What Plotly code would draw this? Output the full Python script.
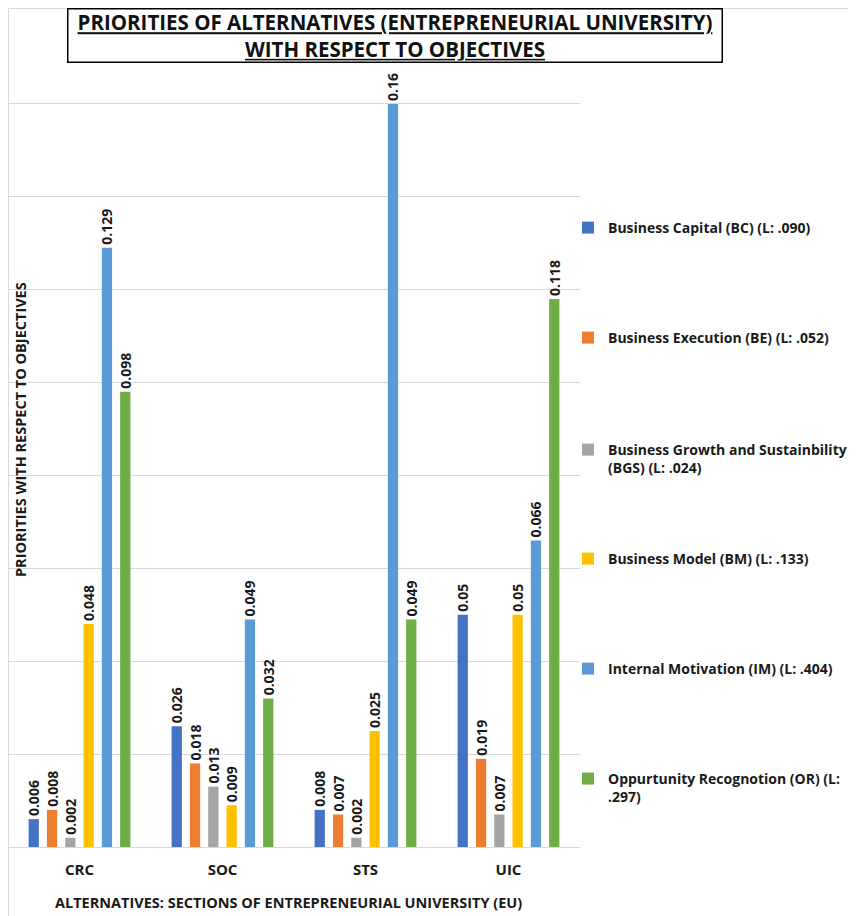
import plotly.graph_objects as go

categories = ["CRC", "SOC", "STS", "UIC"]
series_names = [
    "Business Capital (BC) (L: .090)",
    "Business Execution (BE) (L: .052)",
    "Business Growth and Sustainbility<br>(BGS) (L: .024)",
    "Business Model (BM) (L: .133)",
    "Internal Motivation (IM) (L: .404)",
    "Oppurtunity Recognotion (OR) (L:<br>.297)",
]
bc = [0.006, 0.026, 0.008, 0.05]
be = [0.008, 0.018, 0.007, 0.019]
bgs = [0.002, 0.013, 0.002, 0.007]
bm = [0.048, 0.009, 0.025, 0.05]
im = [0.129, 0.049, 0.16, 0.066]
orr = [0.098, 0.032, 0.049, 0.118]
series_values = [bc, be, bgs, bm, im, orr]
colors = ["#4472C4", "#ED7D31", "#A5A5A5", "#FFC000", "#5B9BD5", "#70AD47"]

# page has an 8px body margin; figure is drawn from screen (8, 8)
OFF = 8
W, H = 856 - OFF, 916 - OFF
L, R, T, B = 8, 580, 11, 847  # plot area in screen px


def px_x(sx):
    return (sx - L) / (R - L)


def px_y(sy):
    return (B - sy) / (B - T)


FONT = "Open Sans"
TXT = "#1a1a1a"

fig = go.Figure()
legend_names = ["legend", "legend2", "legend3", "legend4", "legend5", "legend6"]
for name, vals, col, lg in zip(series_names, series_values, colors, legend_names):
    fig.add_trace(go.Bar(
        x=categories, y=vals, name=name,
        marker=dict(color=col, line=dict(width=0)),
        text=[str(v) for v in vals],
        textposition="outside", textangle=-90,
        constraintext="none", cliponaxis=False,
        textfont=dict(family=FONT, size=14, color=TXT, weight="bold"),
        legend=lg,
    ))

legend_centers = [228, 338, 450, 559, 669, 779]
layout_legends = {}
for lg, cy in zip(legend_names, legend_centers):
    layout_legends[lg] = dict(
        x=px_x(568), y=px_y(cy - 16), xanchor="left", yanchor="top",
        font=dict(family=FONT, size=14, color=TXT, weight="bold"),
        bgcolor="rgba(0,0,0,0)", valign="top", itemclick=False,
    )

fig.update_layout(
    width=W, height=H,
    margin=dict(l=L - OFF, r=(W + OFF) - R, t=T - OFF, b=(H + OFF) - B),
    paper_bgcolor="white", plot_bgcolor="white",
    barmode="group", bargap=0.232, bargroupgap=0.44,
    showlegend=True,
    font=dict(family=FONT, color=TXT),
    xaxis=dict(
        type="category", showgrid=False, showline=False, ticks="",
        ticklabelstandoff=12,
        tickfont=dict(family=FONT, size=15, color=TXT, weight="bold"),
        fixedrange=True,
    ),
    yaxis=dict(
        range=[0, 0.18], dtick=0.02, showgrid=True, gridcolor="#d9d9d9",
        gridwidth=1, zeroline=True, zerolinecolor="#d9d9d9", zerolinewidth=1,
        showticklabels=False, ticks="", showline=False, fixedrange=True,
    ),
    **layout_legends,
)

# chart border (partly visible in the reference)
fig.add_shape(type="line", xref="paper", yref="paper",
              x0=px_x(8.5), x1=px_x(8.5), y0=px_y(920), y1=px_y(8.5),
              line=dict(color="#d9d9d9", width=1))
fig.add_shape(type="line", xref="paper", yref="paper",
              x0=px_x(8.5), x1=px_x(860), y0=px_y(8.5), y1=px_y(8.5),
              line=dict(color="#d9d9d9", width=1))

# title box
fig.add_annotation(
    xref="paper", yref="paper", x=px_x(394.5), y=px_y(35.5),
    xanchor="center", yanchor="middle",
    text="<u>PRIORITIES OF ALTERNATIVES (ENTREPRENEURIAL UNIVERSITY)</u><br><u>WITH RESPECT TO OBJECTIVES</u>",
    showarrow=False, align="center",
    font=dict(family=FONT, size=20.5, color="#111111", weight="bold"),
    bgcolor="white", bordercolor="#000000", borderwidth=1.5,
    width=651, height=50,
)
# y axis title
fig.add_annotation(
    xref="paper", yref="paper", x=px_x(20), y=px_y(430),
    xanchor="center", yanchor="middle", textangle=-90,
    text="PRIORITIES WITH RESPECT TO OBJECTIVES", showarrow=False,
    font=dict(family=FONT, size=14.5, color=TXT, weight="bold"),
)
# x axis title
fig.add_annotation(
    xref="paper", yref="paper", x=px_x(288), y=px_y(903),
    xanchor="center", yanchor="middle",
    text="ALTERNATIVES: SECTIONS OF ENTREPRENEURIAL UNIVERSITY (EU)", showarrow=False,
    font=dict(family=FONT, size=14.5, color=TXT, weight="bold"),
)

fig.write_html("out.html")
